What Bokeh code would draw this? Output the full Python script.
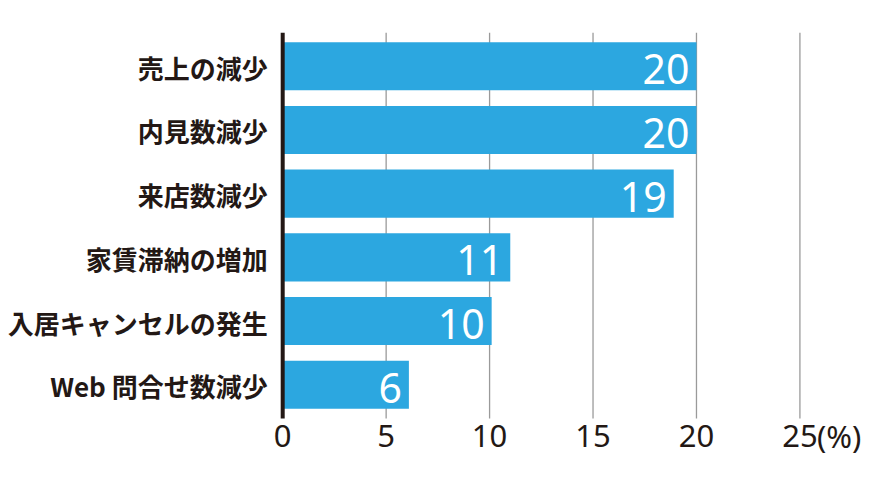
from bokeh.plotting import figure
from bokeh.models import Range1d, ColumnDataSource
from bokeh.core.properties import value
from bokeh.embed import file_html
from bokeh.resources import INLINE

categories = ["売上の減少", "内見数減少", "来店数減少", "家賃滞納の増加", "入居キャンセルの発生", "Web 問合せ数減少"]
values = [20.0, 20.0, 18.9, 11.0, 10.1, 6.1]
value_labels = ["20", "20", "19", "11", "10", "6"]
x_ticks = [0, 5, 10, 15, 20, 25]
x_tick_labels = ["0", "5", "10", "15", "20", "25"]
x_unit = "(%)"

DARK = "#231815"
BLUE = "#2ca7e0"
GRID = "#9a9a9a"

n = len(categories)
# category rows: first category on top
ypos = [n - 1 - i for i in range(n)]
band_top = n - 0.47
band_bottom = -0.53
tick_label_y = -0.80

p = figure(
    width=880, height=464,
    x_range=Range1d(-13.64, 28.17), y_range=Range1d(-1.158, band_top),
    output_backend="svg", toolbar_location=None,
    min_border_left=0, min_border_right=15, min_border_top=32, min_border_bottom=6,
)
p.outline_line_color = None
p.background_fill_color = "white"
p.xgrid.visible = False
p.ygrid.visible = False
p.xaxis.visible = False
p.yaxis.visible = False

# vertical grid lines (behind bars)
p.segment(x0=x_ticks[1:], x1=x_ticks[1:], y0=band_bottom, y1=band_top,
          line_color=GRID, line_width=1.3)

src = ColumnDataSource(dict(y=ypos, right=values, lab=value_labels, cat=categories))
p.hbar(y="y", left=0, right="right", height=0.755, source=src, fill_color=BLUE, line_color=None)

# zero axis line
p.segment(x0=[0], x1=[0], y0=band_bottom, y1=band_top, line_color=DARK, line_width=4)

# value labels inside bars
p.text(x="right", y="y", text="lab", source=src, x_offset=-7, y_offset=3,
       text_align="right", text_baseline="middle", text_color="white",
       text_font_size="41px", text_font=value("Noto Sans"))

# category labels
p.text(x=0, y="y", text="cat", source=src, x_offset=-15, y_offset=1,
       text_align="right", text_baseline="middle", text_color=DARK,
       text_font_size="26px", text_font_style="bold", text_font=value("Noto Sans CJK JP"))

# x tick labels
p.text(x=x_ticks, y=[tick_label_y] * len(x_ticks), text=x_tick_labels,
       text_align="center", text_baseline="middle", text_color=DARK,
       text_font_size="31px", text_font=value("Noto Sans"))
p.text(x=[x_ticks[-1]], y=[tick_label_y], text=[x_unit], x_offset=17,
       text_align="left", text_baseline="middle", text_color=DARK,
       text_font_size="31px", text_font=value("Noto Sans"))

open("out.html", "w").write(file_html(p, INLINE))
